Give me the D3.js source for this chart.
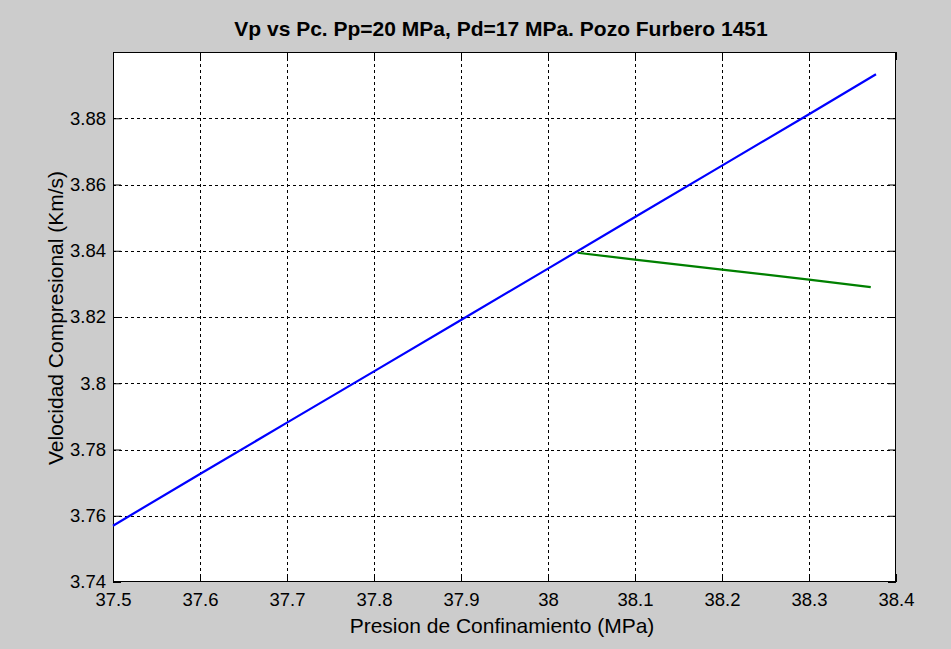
<!DOCTYPE html>
<html>
<head>
<meta charset="utf-8">
<script src="https://d3js.org/d3.v7.min.js"></script>
<style>
  body { margin: 0; background: #cccccc; }
  svg { display: block; }
  text { font-family: "Liberation Sans", Arial, sans-serif; fill: #000; }
</style>
</head>
<body>
<div id="chart"></div>
<script>
// chart values
const presion = [37.5, 37.6, 37.7, 37.8, 37.9, 38.0, 38.1, 38.2, 38.3, 38.377];
const velocidad = [3.757, 3.7726, 3.7881, 3.8036, 3.8191, 3.8346, 3.8502, 3.8657, 3.8812, 3.8933];
const presionDesc = [38.034, 38.1, 38.2, 38.3, 38.371];
const velocidadDesc = [3.8394, 3.8373, 3.8343, 3.8313, 3.829];
const xTicks = [37.5, 37.6, 37.7, 37.8, 37.9, 38, 38.1, 38.2, 38.3, 38.4];
const yTicks = [3.74, 3.76, 3.78, 3.8, 3.82, 3.84, 3.86, 3.88];

const W = 951, H = 649;
const m = { left: 113, top: 52, right: 896, bottom: 582 };

const svg = d3.select('#chart').append('svg')
    .attr('width', W)
    .attr('height', H);

svg.append('rect').attr('width', W).attr('height', H).attr('fill', '#cccccc');

const x = d3.scaleLinear().domain([37.5, 38.4]).range([m.left, m.right]);
const y = d3.scaleLinear().domain([3.74, 3.9]).range([m.bottom, m.top]);

// plot box
svg.append('rect')
    .attr('x', m.left).attr('y', m.top)
    .attr('width', m.right - m.left).attr('height', m.bottom - m.top)
    .attr('fill', '#fff');

// dashed grid
const grid = svg.append('g').attr('stroke', '#000').attr('stroke-dasharray', '3,3').attr('stroke-width', 1);
grid.selectAll('.gx').data(xTicks.slice(1, -1)).enter().append('line')
    .attr('x1', d => Math.round(x(d)) + 0.5).attr('x2', d => Math.round(x(d)) + 0.5)
    .attr('y1', m.top).attr('y2', m.bottom);
grid.selectAll('.gy').data(yTicks.slice(1)).enter().append('line')
    .attr('y1', d => Math.round(y(d)) + 0.5).attr('y2', d => Math.round(y(d)) + 0.5)
    .attr('x1', m.left).attr('x2', m.right);

// axes, ticks inside
const fmtX = d => d3.format('')(+d.toFixed(1));
const fmtY = d => d3.format('')(+d.toFixed(2));
const xAxis = svg.append('g').attr('transform', `translate(0,${m.bottom})`)
    .call(d3.axisBottom(x).tickValues(xTicks).tickSizeInner(-8).tickSizeOuter(0).tickPadding(11).tickFormat(fmtX));
const xTop = svg.append('g').attr('transform', `translate(0,${m.top})`)
    .call(d3.axisTop(x).tickValues(xTicks).tickSizeInner(-8).tickSizeOuter(0).tickFormat(''));
const yAxis = svg.append('g').attr('transform', `translate(${m.left},0)`)
    .call(d3.axisLeft(y).tickValues(yTicks).tickSizeInner(-8).tickSizeOuter(0).tickPadding(7).tickFormat(fmtY));
const yRight = svg.append('g').attr('transform', `translate(${m.right},0)`)
    .call(d3.axisRight(y).tickValues(yTicks).tickSizeInner(-8).tickSizeOuter(0).tickFormat(''));

[xAxis, xTop, yAxis, yRight].forEach(g => {
  g.select('.domain').remove();
  g.selectAll('line').attr('stroke', '#000');
  g.selectAll('text').attr('font-size', 18.5).attr('font-family', '"Liberation Sans", Arial, sans-serif').attr('fill', '#000');
});
xAxis.selectAll('text').attr('dy', '0.71em');

svg.append('rect')
    .attr('x', m.left + 0.5).attr('y', m.top + 0.5)
    .attr('width', m.right - m.left - 1).attr('height', m.bottom - m.top - 1)
    .attr('fill', 'none').attr('stroke', '#000').attr('stroke-width', 1);

// series
const line = d3.line().x(d => x(d[0])).y(d => y(d[1]));
svg.append('path')
    .datum(presion.map((p, i) => [p, velocidad[i]]))
    .attr('d', line).attr('fill', 'none').attr('stroke', '#0000ff').attr('stroke-width', 2.2);
svg.append('path')
    .datum(presionDesc.map((p, i) => [p, velocidadDesc[i]]))
    .attr('d', line).attr('fill', 'none').attr('stroke', '#008000').attr('stroke-width', 2.2);

// labels
svg.append('text')
    .attr('x', 501).attr('y', 36)
    .attr('text-anchor', 'middle').attr('font-size', 21).attr('font-weight', 'bold')
    .text('Vp vs Pc. Pp=20 MPa, Pd=17 MPa. Pozo Furbero 1451');
svg.append('text')
    .attr('x', 502).attr('y', 633)
    .attr('text-anchor', 'middle').attr('font-size', 21)
    .text('Presion de Confinamiento (MPa)');
svg.append('text')
    .attr('transform', `translate(63,318) rotate(-90)`)
    .attr('text-anchor', 'middle').attr('font-size', 21)
    .text('Velocidad Compresional (Km/s)');
</script>
</body>
</html>
